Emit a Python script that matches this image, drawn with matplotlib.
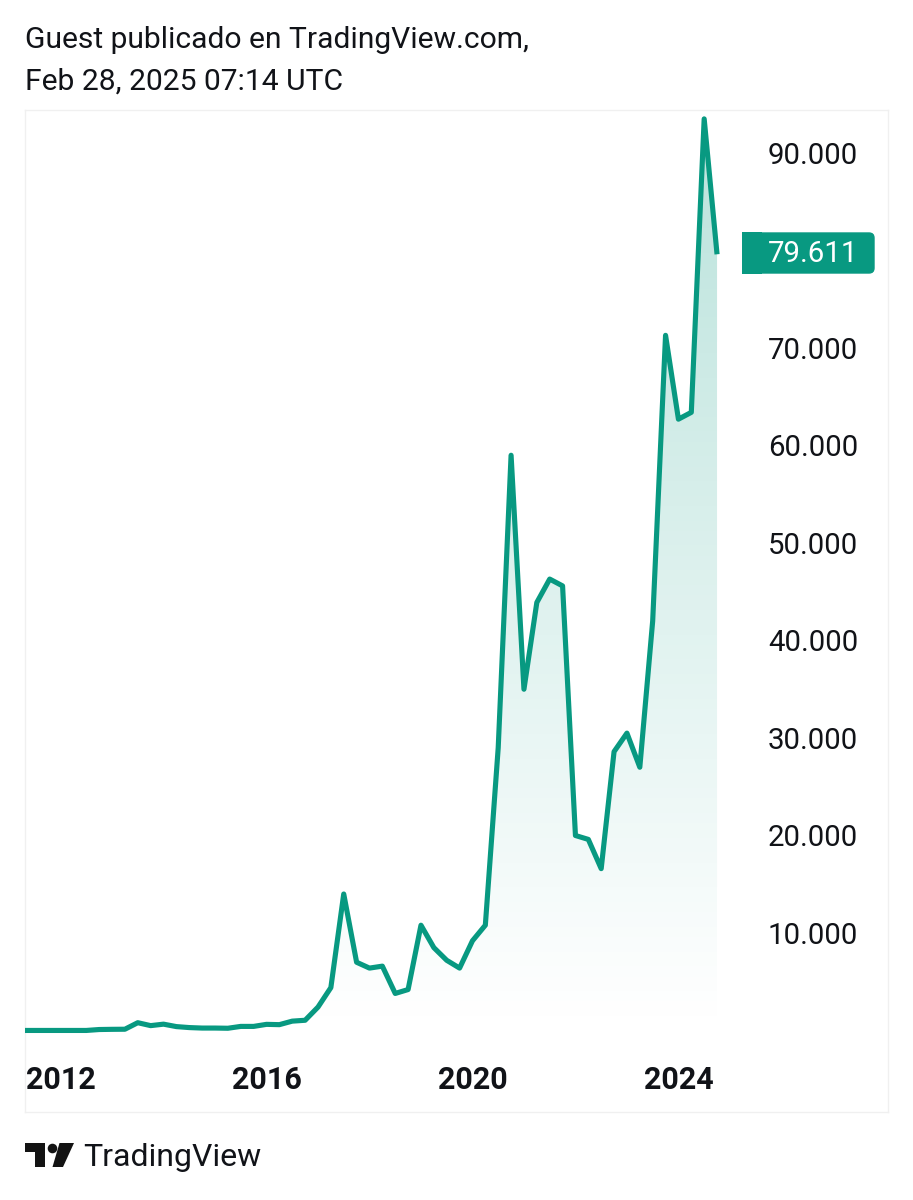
import numpy as np
import matplotlib
matplotlib.use("Agg")
import matplotlib.pyplot as plt
import matplotlib.patches as patches
from matplotlib.ticker import FuncFormatter

plt.rcParams['font.family'] = ['Roboto', 'DejaVu Sans']

# quarterly close, first point is 2011 Q2
prices = [5, 5, 5, 5, 5, 5, 100, 120, 130, 800,
          500, 650, 400, 300, 250, 250, 230, 420, 420, 630,
          600, 960, 1050, 2400, 4400, 14000, 7000, 6400, 6600, 3800,
          4200, 10800, 8500, 7200, 6400, 9200, 10800, 29000, 59000, 35000,
          43900, 46300, 45600, 20000, 19600, 16600, 28600, 30500, 27000, 42000,
          71300, 62700, 63400, 93500, 79611]
first_year = 2011.25
year_ticks = [2012, 2016, 2020, 2024]
price_ticks = [10000, 20000, 30000, 40000, 50000, 60000, 70000, 80000, 90000]
# 80.000 is hidden behind the last price tag
hidden_tick = 80000

title_lines = ["Guest publicado en TradingView.com,", "Feb 28, 2025 07:14 UTC"]
GREEN = '#089981'
TEXT = '#111318'

years = first_year + np.arange(len(prices)) / 4

fig = plt.figure(figsize=(9.13, 12), dpi=100, facecolor='white')
W, H = 913, 1200
ax = fig.add_axes([25 / W, 1 - 1112 / H, (888 - 25) / W, (1112 - 110) / H])

# gradient under the line
grad = np.zeros((256, 2, 4))
grad[..., :3] = matplotlib.colors.to_rgb(GREEN)
grad[..., 3] = np.linspace(0.28, 0.0, 256)[:, None]
poly = ax.fill_between(years, prices, 0, color='none')
img = ax.imshow(grad, extent=[years[0], years[-1], 0, max(prices)],
                origin='upper', aspect='auto', zorder=1)
img.set_clip_path(poly.get_paths()[0], ax.transData)

ax.plot(years, prices, color=GREEN, linewidth=3.7, zorder=3,
        solid_joinstyle='round', solid_capstyle='butt')

ax.set_xlim(2011.31, 2028.07)
ax.set_ylim(-8359, 94410)

for s in ax.spines.values():
    s.set_color('#f0f0f0')
    s.set_linewidth(1)

ax.yaxis.tick_right()
ax.set_yticks([t for t in price_ticks if t != hidden_tick])
ax.yaxis.set_major_formatter(FuncFormatter(lambda v, p: f"{int(v):,}".replace(",", ".")))
ax.tick_params(axis='y', length=0, pad=-86.4, labelsize=21.2, labelcolor=TEXT)
ax.set_xticks(year_ticks)
ax.tick_params(axis='x', length=0, pad=-33.5, labelsize=22, labelcolor=TEXT)
for lab in ax.get_xticklabels():
    lab.set_fontweight('bold')

# overlay in pixels for the tag, title and logo
over = fig.add_axes([0, 0, 1, 1], facecolor='none')
over.set_xlim(0, W)
over.set_ylim(H, 0)
over.axis('off')

over.add_patch(patches.FancyBboxPatch((746, 233), 128, 40,
                                      boxstyle="round,pad=0,rounding_size=5",
                                      facecolor=GREEN, edgecolor=GREEN, linewidth=1))
over.add_patch(patches.Rectangle((742, 232), 20, 42, facecolor=GREEN, edgecolor='none'))
over.text(768, 254.5, f"{prices[-1]:,}".replace(",", "."), color='white',
          fontsize=21.2, va='center', ha='left')

over.text(25, 40.5, title_lines[0], fontsize=21.6, color=TEXT, va='center', ha='left')
over.text(25, 82, title_lines[1], fontsize=21.6, color=TEXT, va='center', ha='left')

# TradingView logo
logo = '#131313'
over.add_patch(patches.Polygon([(25, 1143), (45, 1143), (45, 1167), (35, 1167),
                                (35, 1152), (25, 1152)], facecolor=logo, edgecolor='none'))
over.add_patch(patches.Circle((52.5, 1148.5), 4.8, facecolor=logo, edgecolor='none'))
over.add_patch(patches.Polygon([(59.5, 1143), (74, 1143), (63, 1167), (52.5, 1167)],
                               facecolor=logo, edgecolor='none'))
over.text(83.5, 1158, "TradingView", fontsize=23, color=TEXT, va='center', ha='left')

fig.savefig("out.png", dpi=100, facecolor='white')
